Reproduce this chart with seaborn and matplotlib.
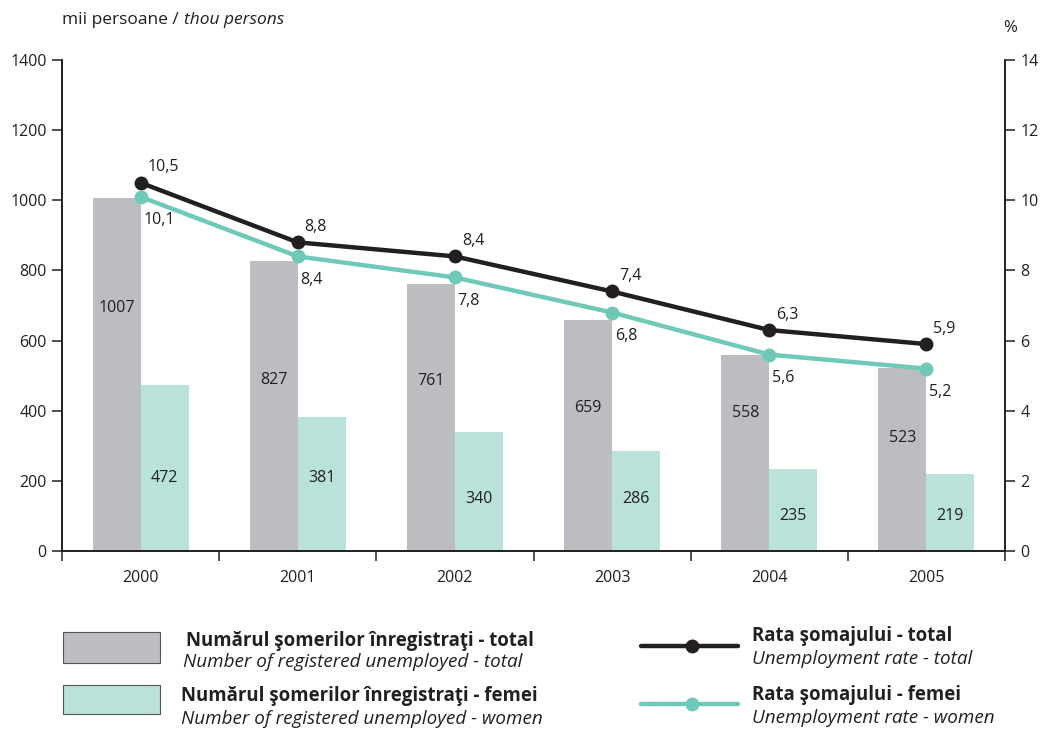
import numpy as np
import pandas as pd
import matplotlib
matplotlib.use("Agg")
import matplotlib.pyplot as plt
from matplotlib.patches import Rectangle
from matplotlib.lines import Line2D
import seaborn as sns

years = ["2000", "2001", "2002", "2003", "2004", "2005"]
unemployed_total = [1007, 827, 761, 659, 558, 523]
unemployed_women = [472, 381, 340, 286, 235, 219]
rate_total = [10.5, 8.8, 8.4, 7.4, 6.3, 5.9]
rate_women = [10.1, 8.4, 7.8, 6.8, 5.6, 5.2]
left_ticks = [0, 200, 400, 600, 800, 1000, 1200, 1400]
right_ticks = [0, 2, 4, 6, 8, 10, 12, 14]

# layout: vertical placement (in left-axis units) of the value labels inside bars
label_y_total = [693, 488, 485, 408, 393, 322]
label_y_women = [208, 208, 148, 148, 100, 100]

GRAY = "#bcbdc1"
TEAL_BAR = "#b9e2da"
TEAL_LINE = "#6fc9b8"
BLACK = "#231f20"

sns.set_theme(style="white")
plt.rcParams["font.family"] = ["Open Sans", "DejaVu Sans"]
plt.rcParams["axes.edgecolor"] = BLACK
plt.rcParams["text.color"] = BLACK
plt.rcParams["xtick.color"] = BLACK
plt.rcParams["ytick.color"] = BLACK

W, H = 1042, 731
fig = plt.figure(figsize=(W / 100, H / 100), dpi=100)
ax = fig.add_axes([62 / W, 1 - 551 / H, (1005 - 62) / W, (551 - 60) / H])

df = pd.DataFrame({
    "year": years * 2,
    "value": unemployed_total + unemployed_women,
    "group": ["total"] * 6 + ["women"] * 6,
})
sns.barplot(data=df, x="year", y="value", hue="group", palette=[GRAY, TEAL_BAR],
            width=0.61, saturation=1, dodge=True, gap=0, ax=ax, legend=False,
            linewidth=0, errorbar=None)

# bar value labels
for i, (t, w) in enumerate(zip(unemployed_total, unemployed_women)):
    ax.text(i - 0.1525, label_y_total[i], str(t), ha="center", va="center", fontsize=11.5)
    ax.text(i + 0.1525, label_y_women[i], str(w), ha="center", va="center", fontsize=11.5)

ax.set_ylim(0, 1400)
ax.set_xlim(-0.5, 5.5)
ax.set_yticks(left_ticks)
ax.set_xlabel("")
ax.set_ylabel("")
ax.set_xticks(range(6))
ax.set_xticklabels(years, fontsize=11.5)
ax.set_xticks(np.arange(-0.5, 6, 1), minor=True)
ax.tick_params(axis="x", which="major", length=0, pad=14)
ax.tick_params(axis="x", which="minor", length=7, width=1.1, direction="out", bottom=True)
ax.tick_params(axis="y", length=7, width=1.1, direction="out", left=True, labelsize=11.5, pad=4)
for s in ["left", "right", "bottom"]:
    ax.spines[s].set_linewidth(1.2)
ax.spines["top"].set_visible(False)

ax2 = ax.twinx()
x = np.arange(6)
sns.lineplot(x=x, y=rate_total, ax=ax2, color=BLACK, lw=3.2, marker="o",
             markersize=10, markeredgewidth=0)
sns.lineplot(x=x, y=rate_women, ax=ax2, color=TEAL_LINE, lw=3.2, marker="o",
             markersize=10, markeredgewidth=0)
ax2.set_ylim(0, 14)
ax2.set_yticks(right_ticks)
ax2.set_xlim(-0.5, 5.5)
ax2.tick_params(axis="y", length=7, width=1.1, direction="out", right=True, labelsize=11.5, pad=4)
ax2.spines["top"].set_visible(False)
ax2.spines["right"].set_linewidth(1.2)
ax2.set_xlabel("")
ax2.set_ylabel("")

for i, (t, w) in enumerate(zip(rate_total, rate_women)):
    ax2.annotate(f"{t}".replace(".", ","), (i, t), xytext=(5, 11), textcoords="offset points",
                 ha="left", va="center", fontsize=11.5)
    ax2.annotate(f"{w}".replace(".", ","), (i, w), xytext=(2, -17), textcoords="offset points",
                 ha="left", va="center", fontsize=11.5)

t1 = fig.text(62 / W, 1 - 20 / H, "mii persoane /", ha="left", va="center", fontsize=12.5)
ax.annotate("thou persons", xy=(1, 0.5), xycoords=t1, xytext=(3.5, 0), textcoords="offset points",
            ha="left", va="center", fontsize=12.5, style="italic", annotation_clip=False)
fig.text(1010 / W, 1 - 28 / H, "%", ha="center", va="center", fontsize=12)

# legend
def fx(px):
    return px / W

def fy(py):
    return 1 - py / H

fig.add_artist(Rectangle((fx(63), fy(663)), fx(160) - fx(63), fy(632) - fy(663),
                         facecolor=GRAY, edgecolor="#555555", lw=0.8, transform=fig.transFigure))
fig.add_artist(Rectangle((fx(63), fy(714)), fx(160) - fx(63), fy(685) - fy(714),
                         facecolor=TEAL_BAR, edgecolor="#555555", lw=0.8, transform=fig.transFigure))
fs_b, fs_i = 13.4, 13.6
fig.text(fx(186), fy(641), "Numărul şomerilor înregistraţi - total", fontsize=fs_b, fontweight="bold", va="center")
fig.text(fx(183), fy(662), "Number of registered unemployed - total", fontsize=fs_i, style="italic", va="center")
fig.text(fx(181), fy(696), "Numărul şomerilor înregistraţi - femei", fontsize=fs_b, fontweight="bold", va="center")
fig.text(fx(181), fy(719), "Number of registered unemployed - women", fontsize=fs_i, style="italic", va="center")

fig.add_artist(Line2D([fx(641), fx(738)], [fy(646), fy(646)], color=BLACK, lw=3.2,
                      transform=fig.transFigure))
fig.add_artist(Line2D([fx(692)], [fy(646)], color=BLACK, marker="o", markersize=10,
                      markeredgewidth=0, transform=fig.transFigure))
fig.add_artist(Line2D([fx(641), fx(738)], [fy(704), fy(704)], color=TEAL_LINE, lw=3.2,
                      transform=fig.transFigure))
fig.add_artist(Line2D([fx(692)], [fy(704)], color=TEAL_LINE, marker="o", markersize=10,
                      markeredgewidth=0, transform=fig.transFigure))
fig.text(fx(752), fy(636), "Rata şomajului - total", fontsize=fs_b, fontweight="bold", va="center")
fig.text(fx(752), fy(659), "Unemployment rate - total", fontsize=fs_i, style="italic", va="center")
fig.text(fx(752), fy(695), "Rata şomajului - femei", fontsize=fs_b, fontweight="bold", va="center")
fig.text(fx(752), fy(718), "Unemployment rate - women", fontsize=fs_i, style="italic", va="center")

fig.savefig("out.png", dpi=100)
